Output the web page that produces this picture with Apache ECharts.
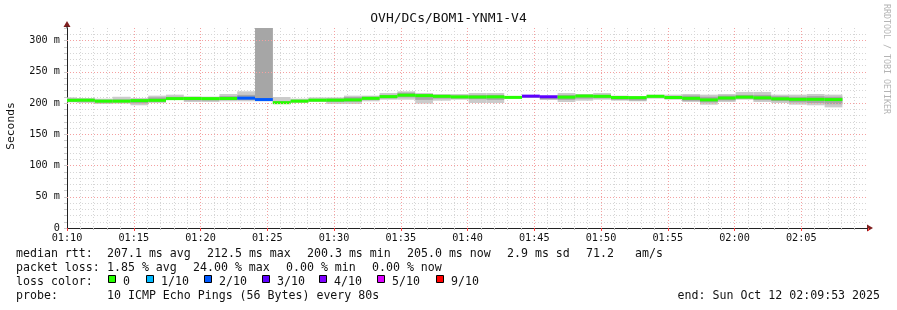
<!DOCTYPE html>
<html><head><meta charset="utf-8">
<script src="https://cdn.jsdelivr.net/npm/echarts@6/dist/echarts.min.js"></script>
<style>html,body{margin:0;padding:0;background:#fff}#c{width:897px;height:310px}</style>
</head><body><div id="c"></div>
<script>
// ---------- data ----------
const chartTitle = 'OVH/DCs/BOM1-YNM1-V4';
// step boundaries (45 boundaries -> 44 steps)
const stepTimes = ['01:10:00','01:10:45','01:12:05','01:13:25','01:14:45','01:16:05','01:17:25','01:18:45','01:20:05','01:21:25','01:22:45','01:24:05','01:25:25','01:26:45','01:28:05','01:29:25','01:30:45','01:32:05','01:33:25','01:34:45','01:36:05','01:37:25','01:38:45','01:40:05','01:41:25','01:42:45','01:44:05','01:45:25','01:46:45','01:48:05','01:49:25','01:50:45','01:52:05','01:53:25','01:54:45','01:56:05','01:57:25','01:58:45','02:00:05','02:01:25','02:02:45','02:04:05','02:05:25','02:06:45','02:08:05'];
// median rtt (ms)
const medianRtt = [204.3,204.5,203.0,203.0,203.8,204.3,207.0,207.2,207.0,207.2,207.8,205.5,200.5,203.0,204.5,204.6,205.0,207.5,210.2,212.5,211.8,210.7,209.8,209.6,209.8,209.0,211.0,210.0,209.4,211.2,210.7,208.8,208.6,210.7,208.8,207.5,205.0,208.0,209.4,208.3,206.7,205.9,205.9,205.5];
// smoke: outer (min..max) and core band (ms)
const smokeLo = [201.0,200.0,198.4,199.0,196.3,200.0,205.3,201.6,201.6,202.7,202.7,203.0,198.4,200.0,201.6,198.4,198.4,202.7,205.3,205.3,199.0,203.7,205.3,200.0,200.0,207.0,208.0,204.8,201.6,203.7,205.3,203.7,202.7,207.0,205.3,201.6,197.3,201.6,205.3,201.6,200.0,197.3,196.3,193.0];
const smokeHi = [209.0,208.0,207.0,210.0,208.0,211.8,213.4,210.7,210.2,214.4,218.7,330.0,209.6,207.0,209.0,209.0,211.8,211.8,216.0,218.7,216.0,214.4,214.4,216.0,216.0,210.7,212.8,211.0,216.0,214.4,216.0,211.8,210.7,213.4,213.4,214.4,213.4,214.4,217.7,217.7,213.4,213.4,214.4,213.4];
const coreLo = [202.0,202.0,200.5,201.0,199.5,202.0,206.0,204.0,204.0,205.0,205.0,204.0,199.5,201.5,203.0,201.5,202.0,205.0,207.5,209.0,205.0,207.0,207.0,206.0,205.0,208.0,209.0,206.0,205.0,207.0,207.5,205.0,204.0,208.5,206.5,203.5,201.0,204.0,207.0,204.5,203.0,201.0,200.0,198.0];
const coreHi = [207.0,206.5,205.0,205.5,206.0,209.0,210.0,209.0,209.0,211.0,213.0,330.0,203.0,205.0,206.5,207.0,209.5,210.0,213.0,216.5,214.0,212.5,212.0,213.0,213.0,210.0,212.0,210.5,213.0,213.0,213.0,210.5,210.0,212.0,211.0,212.0,210.0,212.0,213.0,213.0,211.0,210.0,211.0,210.0];
// lost pings out of 10 per step
const lossTenths = [0,0,0,0,0,0,0,0,0,0,2,2,0,0,0,0,0,0,0,0,0,0,0,0,0,0,3,3,0,0,0,0,0,0,0,0,0,0,0,0,0,0,0,0];
const xTickLabels = ['01:10','01:15','01:20','01:25','01:30','01:35','01:40','01:45','01:50','01:55','02:00','02:05'];
const yTickLabels = ['0','50 m','100 m','150 m','200 m','250 m','300 m'];
const lossLegend = [
  {n:0, label:'0', color:'#26ff00'},
  {n:1, label:'1/10', color:'#00b8ff'},
  {n:2, label:'2/10', color:'#0059ff'},
  {n:3, label:'3/10', color:'#5e00ff'},
  {n:4, label:'4/10', color:'#7e00ff'},
  {n:5, label:'5/10', color:'#dd00ff'},
  {n:9, label:'9/10', color:'#ff0000'}
];
const statLines = [
  ['median rtt:', '207.1 ms avg', '212.5 ms max', '200.3 ms min', '205.0 ms now', '2.9 ms sd', '71.2', 'am/s'],
  ['packet loss:', '1.85 % avg', '24.00 % max', '0.00 % min', '0.00 % now'],
  ['loss color:'],
  ['probe:', '10 ICMP Echo Pings (56 Bytes) every 80s']
];
const endText = 'end: Sun Oct 12 02:09:53 2025';

// ---------- helpers ----------
const MONO = 'DejaVu Sans Mono';
function toMin(t){ const [h,m,s]=t.split(':').map(Number); return h*60+m+s/60-70; }
const steps = medianRtt.map((v,i)=>({x0:toMin(stepTimes[i]), x1:toMin(stepTimes[i+1])}));
const colorOf = n => (lossLegend.find(l=>l.n===n)||lossLegend[0]).color;

function bandSeries(lo, hi, color, z){
  return {
    type:'custom', silent:true, z:z, animation:false,
    data: steps.map((s,i)=>[s.x0, s.x1, lo[i], hi[i]]),
    encode:{x:[0,1], y:[2,3]},
    renderItem(params, api){
      const a = api.coord([api.value(0), api.value(3)]);
      const b = api.coord([api.value(1), api.value(2)]);
      const cs = params.coordSys;
      const r = echarts.graphic.clipRectByRect(
        {x:a[0], y:a[1], width:b[0]-a[0], height:b[1]-a[1]},
        {x:cs.x, y:cs.y, width:cs.width, height:cs.height});
      return r ? {type:'rect', shape:r, style:{fill:color}} : null;
    }
  };
}

const chart = echarts.init(document.getElementById('c'), null, {renderer:'canvas'});
const option = {
  animation:false,
  backgroundColor:'#ffffff',
  grid:{left:67, right:29, top:28, bottom:82},
  xAxis:{
    type:'value', min:0, max:60, interval:5,
    axisLine:{show:true, onZero:false, lineStyle:{color:'#222', width:1}},
    axisTick:{show:true, length:3, lineStyle:{color:'#ff4040'}},
    minorTick:{show:true, splitNumber:5, length:2, lineStyle:{color:'#bbbbbb'}},
    splitLine:{show:true, showMinLine:false, showMaxLine:false, lineStyle:{color:'#f4a0a0', type:[1,2]}},
    minorSplitLine:{show:true, lineStyle:{color:'#d6d6d6', type:[1,2]}},
    axisLabel:{fontFamily:MONO, fontSize:10.2, color:'#111', margin:5, showMaxLabel:false,
      formatter:v=>xTickLabels[Math.round(v/5)]||''}
  },
  yAxis:{
    type:'value', min:0, max:320, interval:10,
    axisLine:{show:true, lineStyle:{color:'#222', width:1}},
    axisTick:{show:true, length:3, lineStyle:{color:'#cccccc'}},
    splitLine:{show:true, showMinLine:false, showMaxLine:false, lineStyle:{color:'#d6d6d6', type:[1,2]}},
    axisLabel:{fontFamily:MONO, fontSize:10.2, color:'#111', margin:7,
      formatter:v=> (v%50===0 ? (yTickLabels[v/50]||'') : '')}
  },
  series:[
    {type:'line', data:[], z:1, silent:true,
      markLine:{silent:true, symbol:'none', animation:false, label:{show:false},
        lineStyle:{color:'#f4a0a0', type:[1,2], width:1},
        data:[50,100,150,200,250,300].map(v=>({yAxis:v}))}},
    bandSeries(smokeLo, smokeHi, '#cbcbcb', 2),
    bandSeries(coreLo, coreHi, '#a6a6a6', 3),
    {
      type:'custom', silent:true, z:4, animation:false,
      data: steps.map((s,i)=>[s.x0, s.x1, medianRtt[i], lossTenths[i]]),
      encode:{x:[0,1], y:2},
      renderItem(params, api){
        const a = api.coord([api.value(0), api.value(2)]);
        const b = api.coord([api.value(1), api.value(2)]);
        return {type:'rect', shape:{x:a[0], y:a[1]-1.5, width:b[0]-a[0], height:3},
          style:{fill:colorOf(api.value(3))}};
      }
    }
  ],
  graphic:[]
};
chart.setOption(option);

// decorations & texts
const g = [];
g.push({type:'text', left:'center', top:12, style:{text:chartTitle, font:'13px '+MONO, fill:'#111'}});
g.push({type:'text', x:11, y:126, rotation:Math.PI/2, style:{text:'Seconds', font:'11.3px '+MONO, fill:'#111', textAlign:'center', textVerticalAlign:'middle'}});
g.push({type:'text', x:886, y:4, rotation:-Math.PI/2, style:{text:'RRDTOOL / TOBI OETIKER', font:'8.3px '+MONO, fill:'#b4b4b4', textAlign:'left', textVerticalAlign:'middle'}});
// arrows at axis ends, positioned from the scales
const xEnd = chart.convertToPixel({gridIndex:0}, [60, 0]);
const yEnd = chart.convertToPixel({gridIndex:0}, [0, 320]);
g.push({type:'polygon', shape:{points:[[xEnd[0]-1,xEnd[1]-3.5],[xEnd[0]+5,xEnd[1]],[xEnd[0]-1,xEnd[1]+3.5]]}, style:{fill:'#7f1f1f'}});
g.push({type:'polygon', shape:{points:[[yEnd[0]-3.5,yEnd[1]-1],[yEnd[0],yEnd[1]-7],[yEnd[0]+3.5,yEnd[1]-1]]}, style:{fill:'#7f1f1f'}});
g.push({type:'line', shape:{x1:yEnd[0], y1:yEnd[1], x2:yEnd[0], y2:yEnd[1]-2}, style:{stroke:'#222'}});
// stat lines
const lineY = [254, 268, 282, 296];
const colX = [
  [16, 107, 207, 307, 407, 507, 586, 635],
  [16, 107, 193, 286, 372],
  [16],
  [16, 107]
];
statLines.forEach((ln, r)=>{
  ln.forEach((t, k)=>{
    g.push({type:'text', x:colX[r][k], y:lineY[r], style:{text:t, font:'11.6px '+MONO, fill:'#111', textVerticalAlign:'middle'}});
  });
});
const boxX = [108, 146, 204, 262, 319, 377, 436];
lossLegend.forEach((l, k)=>{
  g.push({type:'rect', shape:{x:boxX[k]+0.5, y:lineY[2]-6.5, width:7, height:7}, style:{fill:l.color, stroke:'#000', lineWidth:1}});
  g.push({type:'text', x:boxX[k]+15, y:lineY[2], style:{text:l.label, font:'11.6px '+MONO, fill:'#111', textVerticalAlign:'middle'}});
});
g.push({type:'text', x:880, y:lineY[3], style:{text:endText, font:'11.6px '+MONO, fill:'#111', textAlign:'right', textVerticalAlign:'middle'}});
chart.setOption({graphic:g});
</script>
</body></html>
